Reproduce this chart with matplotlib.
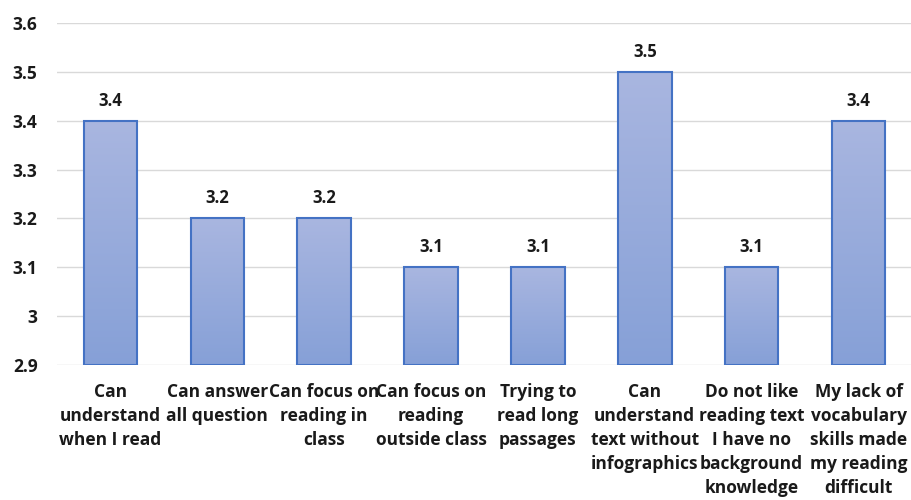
import numpy as np
import matplotlib
matplotlib.use("Agg")
import matplotlib.pyplot as plt
from matplotlib.colors import LinearSegmentedColormap

categories = [
    "Can\nunderstand\nwhen I read",
    "Can answer\nall question",
    "Can focus on\nreading in\nclass",
    "Can focus on\nreading\noutside class",
    "Trying to\nread long\npassages",
    "Can\nunderstand\ntext without\ninfographics",
    "Do not like\nreading text\nI have no\nbackground\nknowledge",
    "My lack of\nvocabulary\nskills made\nmy reading\ndifficult",
]
values = [3.4, 3.2, 3.2, 3.1, 3.1, 3.5, 3.1, 3.4]
y_ticks = [2.9, 3.0, 3.1, 3.2, 3.3, 3.4, 3.5, 3.6]
y_tick_labels = ["2.9", "3", "3.1", "3.2", "3.3", "3.4", "3.5", "3.6"]
base = 2.9

plt.rcParams["font.family"] = ["Open Sans", "DejaVu Sans"]
plt.rcParams["font.weight"] = "bold"

fig = plt.figure(figsize=(9.12, 5.0), dpi=100)
ax = fig.add_axes([0.0625, 0.27, 0.9375, 0.684])

x = np.arange(len(values))
bars = ax.bar(x, [v - base for v in values], bottom=base, width=0.5,
              color="none", edgecolor="#4472c4", linewidth=1.5, zorder=3)

# vertical gradient inside each bar
grad = LinearSegmentedColormap.from_list("bar", ["#86a0d7", "#a9b6e0"])
g = np.linspace(0, 1, 256).reshape(-1, 1)
for b in bars:
    x0, y0 = b.get_x(), b.get_y()
    w, h = b.get_width(), b.get_height()
    im = ax.imshow(g, cmap=grad, origin="lower", aspect="auto",
                   extent=[x0, x0 + w, y0, y0 + h], zorder=2)
    im.set_clip_path(b)

for xi, v in zip(x, values):
    ax.annotate(f"{v:g}", (xi, v), xytext=(0, 8), textcoords="offset points",
                ha="center", va="bottom", fontsize=12, fontweight="bold",
                color="#1a1a1a")

ax.set_xlim(-0.5, len(values) - 0.5)
ax.set_ylim(2.9, 3.6)
ax.set_yticks(y_ticks)
ax.set_yticklabels(y_tick_labels)
ax.set_xticks(x)
ax.set_xticklabels(categories, linespacing=1.42)
ax.tick_params(axis="both", length=0, labelsize=12.5, colors="#1a1a1a")
ax.tick_params(axis="x", pad=13)
ax.tick_params(axis="y", pad=14)
ax.grid(axis="y", color="#d9d9d9", linewidth=1, zorder=0)
ax.set_axisbelow(True)
for s in ax.spines.values():
    s.set_visible(False)

fig.savefig("out.png", dpi=100, facecolor="white")
